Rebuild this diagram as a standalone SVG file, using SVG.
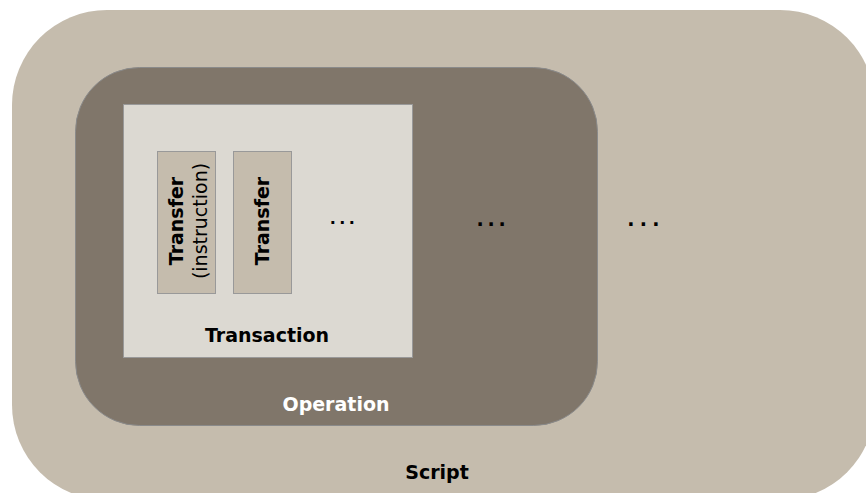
<svg xmlns="http://www.w3.org/2000/svg" width="866" height="493" viewBox="0 0 866 493">
<style>
.b{font-family:"DejaVu Sans",Verdana,sans-serif;font-weight:bold;font-size:19px;text-anchor:middle}
.r{font-family:"DejaVu Sans",Verdana,sans-serif;font-size:19px;text-anchor:middle}
.dots{font-family:"DejaVu Sans",Verdana,sans-serif;font-size:19px;font-weight:bold;text-anchor:middle}
.tf{fill:#c5bcad;stroke:#999;stroke-width:1}
</style>
<rect width="866" height="493" fill="#ffffff"/>
<g id="script">
<rect x="12" y="10" width="863" height="490" rx="95" ry="95" fill="#c5bcad"/>
<text class="b" x="437" y="479" fill="#000">Script</text>
<text class="dots" x="646" y="226" fill="#000" style="letter-spacing:5.3px">...</text>
</g>
<g id="operation">
<rect x="75.5" y="67.5" width="522" height="358" rx="64" ry="64" fill="#80766a" stroke="#8a8a8a" stroke-width="1"/>
<text class="b" x="336" y="411" fill="#fff">Operation</text>
<text class="dots" x="493" y="226" fill="#000" style="letter-spacing:3.8px">...</text>
</g>
<g id="transaction">
<rect x="123.5" y="104.5" width="289" height="253" fill="#dcd9d2" stroke="#999" stroke-width="1"/>
<text class="b" x="267" y="342" fill="#000">Transaction</text>
<text class="dots" x="344" y="224" fill="#000" style="font-size:16px;letter-spacing:3.5px">...</text>
</g>
<g id="transfer1">
<rect class="tf" x="157.5" y="151.5" width="58" height="142"/>
<text class="b" transform="translate(183,221) rotate(-90)" fill="#000">Transfer</text>
<text class="r" transform="translate(207,221) rotate(-90)" fill="#000">(instruction)</text>
</g>
<g id="transfer2">
<rect class="tf" x="233.5" y="151.5" width="58" height="142"/>
<text class="b" transform="translate(269,221) rotate(-90)" fill="#000">Transfer</text>
</g>
<g id="connectors"></g>
</svg>
